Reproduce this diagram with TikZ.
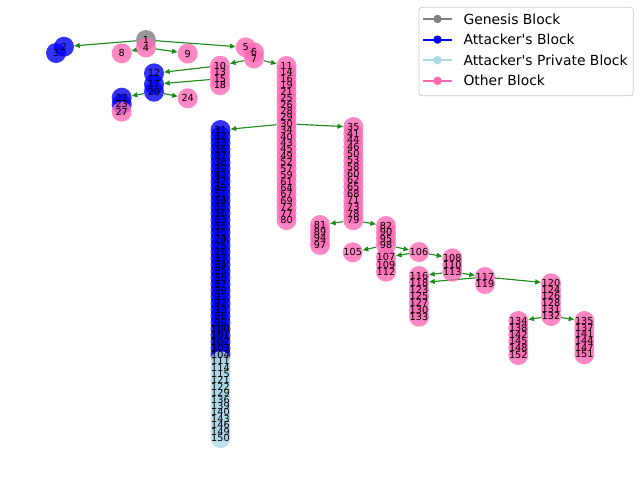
\documentclass[tikz,border=0pt]{standalone}
\usepackage{fontspec}
\setmainfont{DejaVu Sans}
\usepackage{tikz}
\usetikzlibrary{arrows.meta}
\pgfdeclarelayer{background}
\pgfdeclarelayer{foreground}
\pgfsetlayers{background,main,foreground}
\definecolor{mplgray}{HTML}{808080}
\definecolor{mplblue}{HTML}{0000FF}
\definecolor{mpllight}{HTML}{ADD8E6}
\definecolor{mplpink}{HTML}{FF69B4}
\definecolor{mplgreen}{HTML}{1A8C1A}
\tikzstyle{block}=[circle, inner sep=0pt, minimum size=20pt, fill opacity=0.8]
\tikzstyle{grayblock}=[block, fill=mplgray]
\tikzstyle{blueblock}=[block, fill=mplblue]
\tikzstyle{lightblock}=[block, fill=mpllight]
\tikzstyle{pinkblock}=[block, fill=mplpink]
\tikzstyle{numlabel}=[inner sep=0pt, text=black, font=\fontsize{9.7}{9.7}\selectfont]
\tikzstyle{greenarrow}=[-{Triangle[length=5.6pt,width=4.8pt]}, draw=mplgreen, fill=mplgreen, line width=1.1pt]
\tikzstyle{legendbox}=[rectangle, rounded corners=2.8pt, draw=black!20, fill=white, line width=0.8pt, minimum width=214.3pt, minimum height=88.4pt, inner sep=0pt]
\tikzstyle{legendtext}=[anchor=west, inner sep=0pt, font=\fontsize{13.9}{13.9}\selectfont]

\begin{document}
\begin{tikzpicture}[x=1pt,y=-1pt]
\useasboundingbox (0,0) rectangle (640,480);

% blocks, stacked in columns: x/y/step/style/{ids}
\foreach \cx/\cy/\dy/\kind/\ids in {
  146/40/0/grayblock/{1},
  64/46.7/0/blueblock/{2},
  56/53/0/blueblock/{3},
  146/47.5/0/pinkblock/{4},
  245.7/47.3/0/pinkblock/{5},
  254/52.3/6.2/pinkblock/{6,7},
  121.7/53.3/0/pinkblock/{8},
  187.7/53.5/0/pinkblock/{9},
  220/65.7/6.5/pinkblock/{10,13,15,18},
  286.5/66/6.42/pinkblock/{11,14,16,19,21,25,26,28,29,30,34,40,43,45,49,52,57,59,61,64,67,69,72,77,80},
  154/73.3/0/blueblock/{12},
  154/84.3/7.4/blueblock/{17,20},
  121.7/97.7/6.6/blueblock/{22,23},
  121.7/111.7/0/pinkblock/{27},
  187.7/98.3/0/pinkblock/{24},
  220.5/130/6.42/blueblock/{31,32,33,36,37,38,39,42,47,48,51,54,55,56,63,66,70,74,75,76,83,84,85,86,87,88,91,92,93,96,99,100,101,102,103,104},
  220.5/361.1/6.42/lightblock/{111,114,115,121,122,129,136,139,140,143,146,149,150},
  353.3/127/6.66/pinkblock/{35,41,44,46,50,53,58,60,62,65,68,71,73,78,79},
  320/225/6.67/pinkblock/{81,89,94,97},
  386/226/6.33/pinkblock/{82,90,95,98},
  352.7/252.3/0/pinkblock/{105},
  419/252/0/pinkblock/{106},
  386/257.3/7.2/pinkblock/{107,109,112},
  452.3/258.3/6.7/pinkblock/{108,110,113},
  419/276/6.78/pinkblock/{116,118,123,125,127,130,133},
  485/277/7/pinkblock/{117,119},
  551/283.3/6.54/pinkblock/{120,124,126,128,131,132},
  518.3/321/6.8/pinkblock/{134,138,142,145,148,152},
  584.3/321/6.66/pinkblock/{135,137,141,144,147,151}}
  \foreach \n [count=\i from 0] in \ids
    \node[\kind] (b\n) at (\cx,\cy+\i*\dy) {};

\foreach \n in {1,...,152}
  \node[numlabel] (t\n) at (b\n) {\n};

\begin{pgfonlayer}{background}
\foreach \a/\b in {1/2, 1/5, 4/8, 4/9, 7/10, 7/11, 10/12, 15/17, 20/22, 20/24,
  30/31, 30/35, 79/81, 79/82, 98/105, 98/106, 106/107, 106/108,
  113/116, 113/117, 117/118, 117/120, 132/134, 132/135}
  \draw[greenarrow] (b\a) -- (b\b);
\end{pgfonlayer}

% legend
\node[legendbox] (legend) at (526.15,51.5) {};
\foreach \y/\c/\t [count=\i] in {19/mplgray/Genesis Block,
  39.6/mplblue/Attacker\textquotesingle s Block,
  60.2/mpllight/Attacker\textquotesingle s Private Block,
  80.8/mplpink/Other Block} {
  \draw[\c, line width=2pt] (423.3,\y) -- (451.7,\y);
  \fill[\c] (437.5,\y) circle (4.2pt);
  \node[legendtext] (leg\i) at (463.3,\y) {\t};
}

\end{tikzpicture}
\end{document}
